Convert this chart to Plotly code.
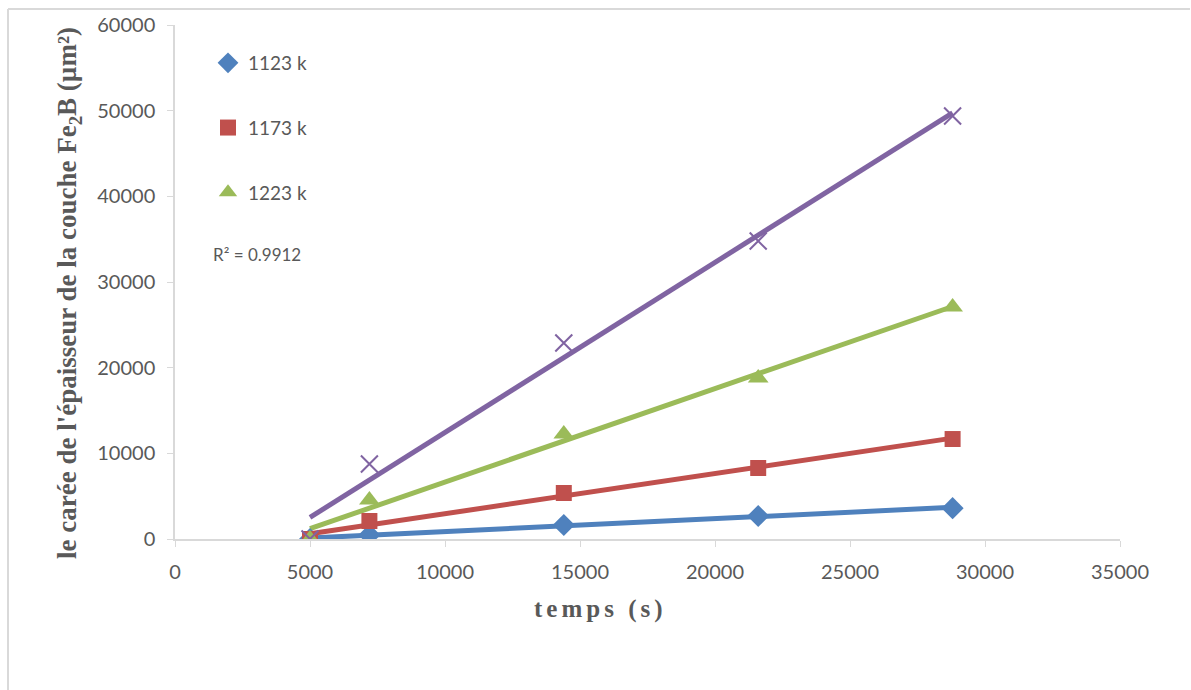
import numpy as np
import plotly.graph_objects as go

# ---- data ----
temps = [5000, 7200, 14400, 21600, 28800]
s1123 = [0, 470, 1630, 2680, 3600]
s1173 = [0, 2100, 5370, 8290, 11670]
s1223 = [0, 4550, 12250, 18800, 27080]
s4 = [0, 8750, 22880, 34780, 49380]
series_names = ["1123 k", "1173 k", "1223 k", None]
r2_text = "R² = 0.9912"
x_ticks = [0, 5000, 10000, 15000, 20000, 25000, 30000, 35000]
y_ticks = [0, 10000, 20000, 30000, 40000, 50000, 60000]

colors = ["#4F81BD", "#C0504D", "#9BBB59", "#8064A2"]
symbols = ["diamond", "square", "triangle-up", "x-thin"]
sizes = [17, 16, 18, 17]

series = [s1123, s1173, s1223, s4]

fig = go.Figure()

# trendlines (linear least squares)
for ys, c in zip(series, colors):
    k, b = np.polyfit(temps, ys, 1)
    xe = [min(temps), max(temps)]
    fig.add_trace(go.Scatter(x=xe, y=[k * v + b for v in xe], mode="lines",
                             line=dict(color=c, width=5), showlegend=False,
                             hoverinfo="skip"))

for i, (ys, c, sym, sz, nm) in enumerate(zip(series, colors, symbols, sizes, series_names)):
    mk = dict(color=c, symbol=sym, size=sz)
    if sym == "x-thin":
        mk["line"] = dict(color=c, width=2)
    tr = dict(x=temps, y=ys, mode="markers", marker=mk,
              showlegend=nm is not None, legendgroup=f"g{i}")
    if nm:
        tr["name"] = nm
    fig.add_trace(go.Scatter(**tr))

gray = "#595959"
axis_line = "#D9D9D9"

# page pixel -> paper coords (plot area: x 175..1120, y 25..539)
def px_x(p):
    return (p - 175) / 945

def px_y(p):
    return (539 - p) / 514

fig.update_layout(
    width=1191, height=690,
    margin=dict(l=175, r=71, t=25, b=151),
    paper_bgcolor="white", plot_bgcolor="white",
    font=dict(family="Lato, Open Sans, sans-serif", color=gray, size=20),
    legend=dict(x=px_x(208), y=px_y(44), xanchor="left", yanchor="top",
                bgcolor="rgba(0,0,0,0)", traceorder="grouped", tracegroupgap=37,
                font=dict(size=19, color=gray)),
    xaxis=dict(range=[0, 35000], tickvals=x_ticks, ticktext=[str(v) for v in x_ticks],
               showgrid=False, zeroline=False, showline=True, linecolor=axis_line,
               linewidth=1.5, ticks="outside", ticklen=6, tickcolor=axis_line,
               ticklabelstandoff=8, tickfont=dict(size=20, color=gray)),
    yaxis=dict(range=[0, 60000], tickvals=y_ticks, ticktext=[str(v) for v in y_ticks],
               showgrid=False, zeroline=False, showline=True, linecolor=axis_line,
               linewidth=1.5, ticks="outside", ticklen=6, tickcolor=axis_line,
               ticklabelstandoff=8, tickfont=dict(size=20, color=gray)),
    shapes=[
        dict(type="line", xref="paper", yref="paper", x0=px_x(8), x1=px_x(8),
             y0=px_y(9), y1=px_y(700), line=dict(color=axis_line, width=2)),
        dict(type="line", xref="paper", yref="paper", x0=px_x(8), x1=px_x(1190),
             y0=px_y(9), y1=px_y(9), line=dict(color=axis_line, width=2)),
    ],
    annotations=[
        dict(text="<b>le carée de l'épaisseur de la couche Fe<sub>2</sub>B (µm²)</b>",
             xref="paper", yref="paper", x=px_x(69), y=px_y(293), textangle=-90,
             xanchor="center", yanchor="middle",
             showarrow=False, font=dict(family="Liberation Serif", size=27, color=gray)),
        dict(text="<span style=\"letter-spacing:4px\"><b>temps (s)</b></span>",
             xref="paper", yref="paper",
             x=px_x(600), y=px_y(625), showarrow=False,
             font=dict(family="Liberation Serif", size=25, color=gray)),
        dict(text=r2_text, xref="paper", yref="paper", x=px_x(211), y=px_y(255),
             xanchor="left", showarrow=False, font=dict(size=17, color=gray)),
    ],
)

fig.write_html("out.html", config={"displayModeBar": False},
               post_script="document.body.style.margin='0';document.body.style.overflow='hidden';")
